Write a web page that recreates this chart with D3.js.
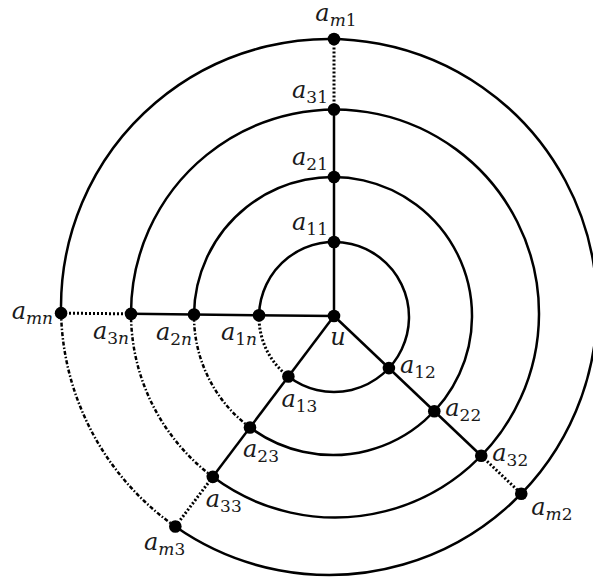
<!DOCTYPE html>
<html>
<head>
<meta charset="utf-8">
<script src="https://cdn.jsdelivr.net/npm/d3@7"></script>
<style>
  body { margin: 0; background: #fff; }
  svg { display: block; }
</style>
</head>
<body>
<div id="graph"></div>
<script>
const width = 593, height = 577;

// rings (1, 2, 3, m) -- radius and a small centre offset (units, y up)
const ringNames = ["1", "2", "3", "m"];
const ringRadius = [75, 139, 204, 268];
const ringCx = [0, -1, 1, -5];
const ringCy = [-1, 0, 2.5, 9];

// spokes (1, 2, 3, n) -- direction in degrees, counter-clockwise from east
const spokeNames = ["1", "2", "3", "n"];
const spokeAngle = [90, -43.5, -127, 179.4];

// u sits at the origin
const x = d3.scaleLinear().domain([-334, 259]).range([0, width]);
const y = d3.scaleLinear().domain([316, -261]).range([0, height]);
const px = x(1) - x(0);

const svg = d3.select("#graph")
  .append("svg")
  .attr("width", width)
  .attr("height", height);

const rad = Math.PI / 180;

// where spoke s cuts ring r
function node(r, s) {
  const dx = Math.cos(spokeAngle[s] * rad), dy = Math.sin(spokeAngle[s] * rad);
  const cx = ringCx[r], cy = ringCy[r];
  const b = dx * cx + dy * cy;
  const t = b + Math.sqrt(b * b - cx * cx - cy * cy + ringRadius[r] * ringRadius[r]);
  return {ux: t * dx, uy: t * dy, r: r, s: s};
}

const nodes = [];
ringNames.forEach((_, r) => spokeNames.forEach((_, s) => nodes.push(node(r, s))));
const find = (r, s) => nodes.find(d => d.r === r && d.s === s);

// canvas angle of a node seen from its ring centre
function ang(d) {
  return Math.atan2(-(d.uy - ringCy[d.r]), d.ux - ringCx[d.r]);
}

const dotted = ["2,2", "4,2,1.5,2", "4,2,1.5,2", "4,2,1.5,2"];
const dottedW = [3, 2.5, 2.5, 2.5];

// ring arcs: solid from spoke n clockwise round to spoke 3, broken from 3 back to n
ringNames.forEach((_, r) => {
  const a0 = ang(find(r, 3)), a1 = ang(find(r, 2));
  let aEnd = a1;
  while (aEnd < a0) aEnd += 2 * Math.PI;
  const p = d3.path();
  const cx = x(ringCx[r]), cy = y(ringCy[r]), rr = ringRadius[r] * px;
  p.moveTo(cx + rr * Math.cos(a0), cy + rr * Math.sin(a0));
  p.arc(cx, cy, rr, a0, aEnd, false);
  svg.append("path")
    .attr("d", p.toString())
    .attr("fill", "none")
    .attr("stroke", "#000")
    .attr("stroke-width", 2.5);

  let b1 = ang(find(r, 3));
  while (b1 < a1) b1 += 2 * Math.PI;
  const q = d3.path();
  q.moveTo(cx + rr * Math.cos(a1), cy + rr * Math.sin(a1));
  q.arc(cx, cy, rr, a1, b1, false);
  svg.append("path")
    .attr("d", q.toString())
    .attr("fill", "none")
    .attr("stroke", "#000")
    .attr("stroke-width", dottedW[r])
    .attr("stroke-dasharray", dotted[r]);
});

// spokes: solid from u out to ring 3, dotted out to ring m
spokeNames.forEach((_, s) => {
  const inner = find(2, s), outer = find(3, s);
  svg.append("line")
    .attr("x1", x(0)).attr("y1", y(0))
    .attr("x2", x(inner.ux)).attr("y2", y(inner.uy))
    .attr("stroke", "#000")
    .attr("stroke-width", 2.5);
  svg.append("line")
    .attr("x1", x(inner.ux)).attr("y1", y(inner.uy))
    .attr("x2", x(outer.ux)).attr("y2", y(outer.uy))
    .attr("stroke", "#000")
    .attr("stroke-width", 3)
    .attr("stroke-dasharray", "2,2");
});

// vertices
svg.selectAll("circle.v")
  .data(nodes.concat([{ux: 0, uy: 0}]))
  .join("circle")
    .attr("class", "v")
    .attr("cx", d => x(d.ux))
    .attr("cy", d => y(d.uy))
    .attr("r", 6.3)
    .attr("fill", "#000");

// label placement per spoke, with the outer ring handled on its own
function place(d) {
  if (d.r === 3) {
    return [[2, -18, "middle"], [10, 21, "start"], [10, 23, "end"], [-8, 6, "end"]][d.s];
  }
  return [[-6, -12, "end"], [11, 5, "start"], [-7, 30, "start"], [-2, 25, "end"]][d.s];
}

const italic = t => isNaN(+t) ? "italic" : "normal";

const labels = svg.selectAll("text.lab")
  .data(nodes)
  .join("text")
    .attr("class", "lab")
    .attr("x", d => x(d.ux) + place(d)[0])
    .attr("y", d => y(d.uy) + place(d)[1])
    .attr("text-anchor", d => place(d)[2])
    .attr("fill", "#1a1a1a")
    .style("font-family", "'DejaVu Serif', serif");

labels.append("tspan")
  .style("font-style", "italic")
  .style("font-size", "24px")
  .text("a");
labels.append("tspan")
  .attr("dy", 5)
  .style("font-size", "17px")
  .style("font-style", d => italic(ringNames[d.r]))
  .text(d => ringNames[d.r]);
labels.append("tspan")
  .style("font-size", "17px")
  .style("font-style", d => italic(spokeNames[d.s]))
  .text(d => spokeNames[d.s]);

svg.append("text")
  .attr("x", x(0) + 4)
  .attr("y", y(0) + 29)
  .attr("text-anchor", "middle")
  .attr("fill", "#1a1a1a")
  .style("font-family", "'DejaVu Serif', serif")
  .style("font-style", "italic")
  .style("font-size", "24px")
  .text("u");
</script>
</body>
</html>
